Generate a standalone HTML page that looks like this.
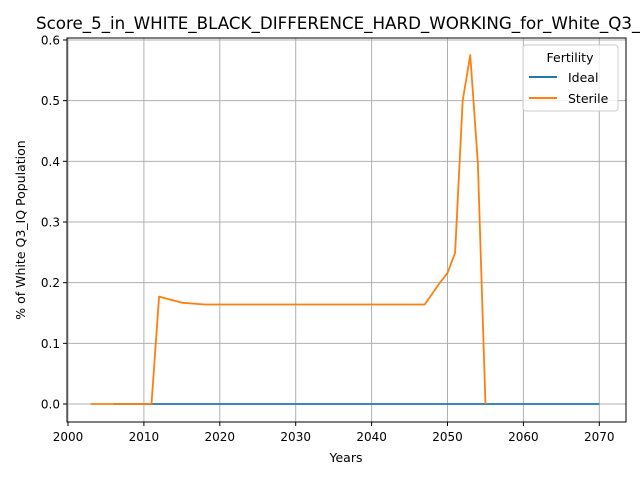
<!DOCTYPE html>
<html><head><meta charset="utf-8"><style>
body{margin:0;background:#fff;}
svg{display:block;font-family:"DejaVu Sans","Liberation Sans",sans-serif;}
</style></head><body>
<svg id="chart" width="640" height="480" viewBox="0 0 640 480">
<text x="36" y="29" font-size="16.7">Score_5_in_WHITE_BLACK_DIFFERENCE_HARD_WORKING_for_White_Q3_IQ</text>
<g id="grid"></g>
<g id="ticks"></g>
<g id="series"></g>
<rect x="67" y="38" width="559" height="384" fill="none" stroke="#000" stroke-width="1"/>
<text x="346" y="462" font-size="12.5" text-anchor="middle">Years</text>
<text x="25" y="230" font-size="12.5" text-anchor="middle" transform="rotate(-90 25 230)">% of White Q3_IQ Population</text>
<g>
<rect x="523" y="45" width="95" height="66" rx="3" fill="#fff" fill-opacity="0.8" stroke="#ccc"/>
<text x="570" y="62" font-size="12.5" text-anchor="middle">Fertility</text>
<line x1="529" y1="77" x2="557" y2="77" stroke="#1f77b4" stroke-width="2"/>
<text x="568" y="82" font-size="12.5">Ideal</text>
<line x1="529" y1="98" x2="557" y2="98" stroke="#ff7f0e" stroke-width="2"/>
<text x="568" y="103" font-size="12.5">Sterile</text>
</g>
</svg>
<script>
const xTicks=[2000,2010,2020,2030,2040,2050,2060,2070];
const yTicks=[0.0,0.1,0.2,0.3,0.4,0.5,0.6];
const yTickLabels=["0.0","0.1","0.2","0.3","0.4","0.5","0.6"];
const idealYears=[2006,2010,2020,2030,2040,2050,2060,2070];
const idealValues=[0,0,0,0,0,0,0,0];
const sterileYears=[2003,2011,2012,2015,2018,2020,2030,2040,2047,2049,2050,2051,2052,2053,2054,2055];
const sterileValues=[0,0,0.177,0.167,0.164,0.164,0.164,0.164,0.164,0.2,0.216,0.249,0.5,0.575,0.397,0];
const NS="http://www.w3.org/2000/svg";
const xs=v=>68+(v-2000)*7.59;
const ys=v=>404-v*606.7;
const grid=document.getElementById('grid'),ticks=document.getElementById('ticks'),series=document.getElementById('series');
function mk(tag,attrs,parent){const e=document.createElementNS(NS,tag);for(const k in attrs)e.setAttribute(k,attrs[k]);parent.appendChild(e);return e;}
xTicks.forEach(t=>{
 const g=mk('line',{x1:xs(t),x2:xs(t),y1:38,y2:422,stroke:'#b0b0b0','stroke-width':1},grid);
 
 
 const tk=mk('line',{x1:xs(t),x2:xs(t),y1:422,y2:426,stroke:'#000'},ticks);
 
 
 const tx=mk('text',{x:xs(t),y:441,'font-size':12,'text-anchor':'middle'},ticks);
 tx.textContent=t;
 
 
});
yTicks.forEach((t,i)=>{
 const g=mk('line',{x1:67,x2:626,y1:ys(t),y2:ys(t),stroke:'#b0b0b0','stroke-width':1},grid);
 
 
 const tk=mk('line',{x1:63,x2:67,y1:ys(t),y2:ys(t),stroke:'#000'},ticks);
 
 
 const tx=mk('text',{x:60,y:ys(t)+4.5,'font-size':12,'text-anchor':'end'},ticks);
 tx.textContent=yTickLabels[i];
 
 
});
function line(xv,yv,color,name){
 const p=mk('polyline',{points:xv.map((x,i)=>xs(x)+','+ys(yv[i])).join(' '),fill:'none',stroke:color,'stroke-width':1.8,'stroke-linejoin':'round'},series);
 
 
}
line(idealYears,idealValues,'#1f77b4','line-ideal');
line(sterileYears,sterileValues,'#ff7f0e','line-sterile');
</script>
</body></html>
